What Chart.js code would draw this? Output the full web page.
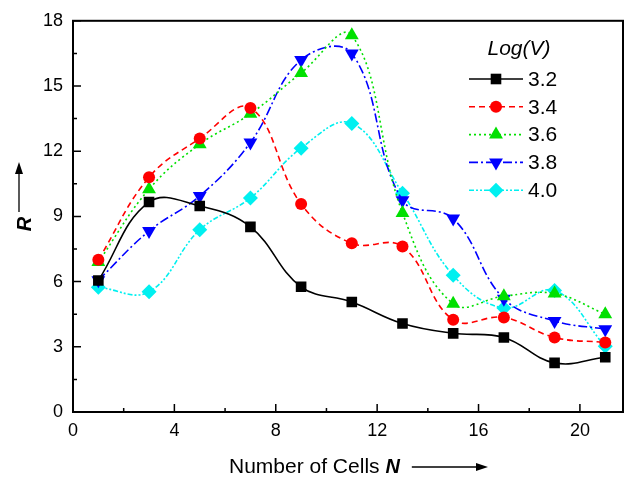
<!DOCTYPE html>
<html>
<head>
<meta charset="utf-8">
<script src="https://cdn.jsdelivr.net/npm/chart.js@4"></script>
<style>
  html, body { margin: 0; padding: 0; background: #fff; }
  #wrap { width: 632px; height: 479px; }
</style>
</head>
<body>
<div id="wrap"><canvas id="myChart" width="632" height="479"></canvas></div>
<script>
// number of cells
var cells = [1, 3, 5, 7, 9, 11, 13, 15, 17, 19, 21];
// R for each Log(V)
var r32 = [6.05, 9.66, 9.48, 8.52, 5.76, 5.06, 4.07, 3.62, 3.43, 2.26, 2.52];
var r34 = [7.0, 10.8, 12.58, 13.99, 9.57, 7.76, 7.61, 4.24, 4.35, 3.43, 3.2];
var r36 = [6.9, 10.25, 12.32, 13.72, 15.6, 17.33, 9.16, 4.98, 5.33, 5.45, 4.5];
var r38 = [6.06, 8.33, 9.94, 12.4, 16.2, 16.5, 9.74, 8.9, 5.21, 4.19, 3.81];
var r40 = [5.74, 5.53, 8.38, 9.85, 12.14, 13.28, 10.07, 6.29, 4.79, 5.59, 3.02];
var seriesNames = ['3.2', '3.4', '3.6', '3.8', '4.0'];
var xTicks = [0, 4, 8, 12, 16, 20];
var yTicks = [0, 3, 6, 9, 12, 15, 18];

var FONT = "'Liberation Sans', Arial, sans-serif";

function pts(ys) {
  return cells.map(function (x, i) { return { x: x, y: ys[i] }; });
}

function makeSet(label, ys, color, dash, style, radius, rot) {
  return {
    label: label,
    data: pts(ys),
    borderColor: color,
    backgroundColor: color,
    borderWidth: 1.6,
    borderDash: dash,
    tension: 0.4,
    pointStyle: style,
    pointRadius: radius,
    pointRotation: rot || 0,
    pointBorderWidth: 0,
    pointBackgroundColor: color,
    pointBorderColor: color
  };
}

// frame, inward ticks (major + minor), axis titles, legend
var decor = {
  id: 'decor',
  afterDatasetsDraw: function (chart) {
    var ctx = chart.ctx, a = chart.chartArea;
    var xs = chart.scales.x, ys = chart.scales.y;
    ctx.save();
    ctx.strokeStyle = '#000';
    ctx.lineWidth = 2;
    ctx.setLineDash([]);
    ctx.strokeRect(a.left, a.top, a.right - a.left, a.bottom - a.top);

    ctx.lineWidth = 1.5;
    ctx.beginPath();
    xTicks.forEach(function (v) {
      var p = xs.getPixelForValue(v);
      ctx.moveTo(p, a.bottom); ctx.lineTo(p, a.bottom - 8);
      var m = xs.getPixelForValue(v + 2);
      if (m < a.right) { ctx.moveTo(m, a.bottom); ctx.lineTo(m, a.bottom - 4); }
    });
    yTicks.forEach(function (v) {
      var p = ys.getPixelForValue(v);
      ctx.moveTo(a.left, p); ctx.lineTo(a.left + 8, p);
      if (v < 18) {
        var m = ys.getPixelForValue(v + 1.5);
        ctx.moveTo(a.left, m); ctx.lineTo(a.left + 4, m);
      }
    });
    ctx.stroke();

    // x title
    ctx.fillStyle = '#000';
    ctx.textBaseline = 'middle';
    ctx.textAlign = 'left';
    ctx.font = '21px ' + FONT;
    var t1 = 'Number of Cells ';
    var w1 = ctx.measureText(t1).width;
    var x0 = 229, yT = 467;
    ctx.fillText(t1, x0, yT);
    ctx.font = 'italic bold 20px ' + FONT;
    ctx.fillText('N', x0 + w1, yT);
    var aw = x0 + w1 + ctx.measureText('N').width + 12;
    var tip = 488;
    ctx.lineWidth = 1.3;
    ctx.beginPath(); ctx.moveTo(aw, yT); ctx.lineTo(tip - 8, yT); ctx.stroke();
    ctx.beginPath();
    ctx.moveTo(tip, yT); ctx.lineTo(tip - 12, yT - 4); ctx.lineTo(tip - 12, yT + 4);
    ctx.closePath(); ctx.fill();

    // y title
    ctx.save();
    ctx.translate(20, 0);
    ctx.rotate(-Math.PI / 2);
    ctx.font = 'italic bold 20px ' + FONT;
    ctx.textAlign = 'center';
    ctx.fillText('R', -224, 5);
    ctx.beginPath(); ctx.moveTo(-212, -1); ctx.lineTo(-170, -1); ctx.stroke();
    ctx.beginPath();
    ctx.moveTo(-162, -1); ctx.lineTo(-174, -5); ctx.lineTo(-174, 3);
    ctx.closePath(); ctx.fill();
    ctx.restore();

    // legend
    ctx.font = 'italic 21px ' + FONT;
    ctx.textAlign = 'center';
    ctx.fillText('Log(V)', 519, 49);
    ctx.font = '21px ' + FONT;
    ctx.textAlign = 'left';
    chart.data.datasets.forEach(function (ds, i) {
      var y = 79 + i * 27.8;
      ctx.strokeStyle = ds.borderColor;
      ctx.fillStyle = ds.borderColor;
      ctx.lineWidth = 1.6;
      ctx.setLineDash(ds.borderDash);
      ctx.beginPath(); ctx.moveTo(469, y); ctx.lineTo(523, y); ctx.stroke();
      ctx.setLineDash([]);
      Chart.helpers.drawPoint(ctx, {
        pointStyle: ds.pointStyle, rotation: ds.pointRotation,
        radius: ds.pointRadius, borderWidth: 0
      }, 496, y);
      ctx.fillStyle = '#000';
      ctx.fillText(ds.label, 528, y + 1);
    });
    ctx.restore();
  }
};

var ctx = document.getElementById('myChart').getContext('2d');
var myChart = new Chart(ctx, {
  type: 'line',
  data: {
    datasets: [
      makeSet(seriesNames[0], r32, '#000000', [], 'rect', 7.5),
      makeSet(seriesNames[1], r34, '#ff0000', [6, 4], 'circle', 6),
      makeSet(seriesNames[2], r36, '#00e000', [2, 3], 'triangle', 8),
      makeSet(seriesNames[3], r38, '#0000ff', [9, 3, 2, 3], 'triangle', 8, 180),
      makeSet(seriesNames[4], r40, '#00f0f0', [5, 2, 2, 2, 2, 2], 'rectRot', 7.5)
    ]
  },
  options: {
    responsive: false,
    animation: false,
    layout: { padding: { top: 17, right: 9, left: 0, bottom: 0 } },
    plugins: { legend: { display: false }, tooltip: { enabled: false } },
    scales: {
      x: {
        type: 'linear',
        min: 0,
        max: 21.7,
        afterBuildTicks: function (s) { s.ticks = xTicks.map(function (v) { return { value: v }; }); },
        afterFit: function (s) { s.height = 67; },
        grid: { display: false, drawTicks: false },
        border: { display: false },
        ticks: { padding: 8, color: '#000', font: { family: FONT, size: 18 }, maxRotation: 0 }
      },
      y: {
        min: 0,
        max: 18,
        afterBuildTicks: function (s) { s.ticks = yTicks.map(function (v) { return { value: v }; }); },
        afterFit: function (s) { s.width = 73; },
        grid: { display: false, drawTicks: false },
        border: { display: false },
        ticks: { padding: 10, color: '#000', font: { family: FONT, size: 18 } }
      }
    }
  },
  plugins: [decor]
});
</script>
</body>
</html>
